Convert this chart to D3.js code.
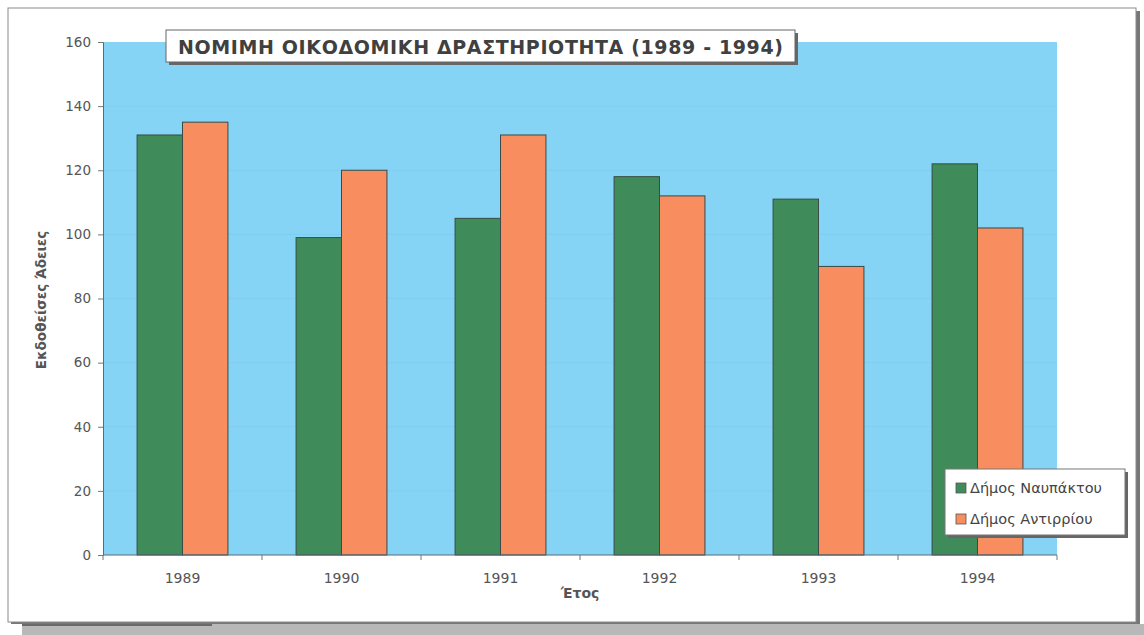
<!DOCTYPE html>
<html>
<head>
<meta charset="utf-8">
<script src="https://cdn.jsdelivr.net/npm/d3@7"></script>
<style>
html,body{margin:0;padding:0;background:#fff;}
svg{display:block;}
</style>
</head>
<body>
<svg id="chart" width="1144" height="635"></svg>
<script>
const years = ["1989","1990","1991","1992","1993","1994"];
const seriesNames = ["Δήμος Ναυπάκτου","Δήμος Αντιρρίου"];
const nafpaktos = [131, 99, 105, 118, 111, 122];
const antirrio = [135, 120, 131, 112, 90, 102];
const yTicks = [0,20,40,60,80,100,120,140,160];
const titleText = "ΝΟΜΙΜΗ ΟΙΚΟΔΟΜΙΚΗ ΔΡΑΣΤΗΡΙΟΤΗΤΑ (1989 - 1994)";
const yTitle = "Εκδοθείσες Άδειες";
const xTitle = "Έτος";
const colors = ["#3f8c5a", "#f88d5f"];

const svg = d3.select("#chart");
const font = "'DejaVu Sans', Verdana, sans-serif";

// scan background artifacts: bottom gray band
svg.append("rect").attr("x",22).attr("y",624).attr("width",1122).attr("height",11).attr("fill","#b8b8b8");
svg.append("rect").attr("x",22).attr("y",622).attr("width",190).attr("height",4).attr("fill","#6a6a6a");
// outer frame with shadow
svg.append("rect").attr("x",11).attr("y",11).attr("width",1129).attr("height",613).attr("fill","#777");
svg.append("rect").attr("x",8).attr("y",8).attr("width",1128).attr("height",614).attr("fill","#fff").attr("stroke","#8a8a8a").attr("stroke-width",1);

const m = {left:103, right:1057, top:42, bottom:555};
const x0 = d3.scaleBand().domain(years).range([m.left, m.right]).paddingInner(0).paddingOuter(0);
const barW = x0.bandwidth()/3.5;
const x1 = d3.scaleBand().domain([0,1]).range([0, barW*2]);
const y = d3.scaleLinear().domain([0,160]).range([m.bottom, m.top]);

// plot area
svg.append("rect").attr("x",m.left).attr("y",m.top).attr("width",m.right-m.left).attr("height",m.bottom-m.top).attr("fill","#86d4f5");
// faint gridlines
svg.append("g").selectAll("line").data(yTicks.filter(d=>d>0 && d<160)).join("line")
  .attr("x1",m.left).attr("x2",m.right).attr("y1",d=>y(d)).attr("y2",d=>y(d))
  .attr("stroke","#80cdee").attr("stroke-width",1);

// bars
const data = years.map((yr,i)=>({year:yr, vals:[nafpaktos[i], antirrio[i]]}));
const g = svg.append("g");
data.forEach(d=>{
  const gx = x0(d.year) + (x0.bandwidth()-barW*2)/2;
  d.vals.forEach((v,j)=>{
    g.append("rect")
      .attr("x", gx + x1(j)).attr("y", y(v))
      .attr("width", barW).attr("height", y(0)-y(v))
      .attr("fill", colors[j]).attr("stroke","#3a4a44").attr("stroke-width",1);
  });
});

// axes
const yAxis = d3.axisLeft(y).tickValues(yTicks).tickSize(5).tickPadding(7);
const ya = svg.append("g").attr("transform",`translate(${m.left},0)`).call(yAxis);
ya.select(".domain").attr("stroke","#5a6a78");
ya.selectAll(".tick line").attr("stroke","#777");
ya.selectAll("text").attr("font-family",font).attr("font-size",13.5).attr("fill","#555");

const xAxisScale = d3.scaleLinear().domain([0,6]).range([m.left,m.right]);
const xa = svg.append("g").attr("transform",`translate(0,${m.bottom})`);
xa.append("line").attr("x1",m.left).attr("x2",m.right).attr("stroke","#5a6a78");
xa.selectAll("line.t").data(d3.range(7)).join("line").attr("class","t")
  .attr("x1",d=>xAxisScale(d)).attr("x2",d=>xAxisScale(d)).attr("y1",0).attr("y2",5).attr("stroke","#777");
xa.selectAll("text").data(years).join("text")
  .attr("x",d=>x0(d)+x0.bandwidth()/2).attr("y",28)
  .attr("text-anchor","middle").attr("font-family",font).attr("font-size",14).attr("fill","#555")
  .text(d=>d);

// axis titles
svg.append("text").attr("transform","translate(46,300) rotate(-90)")
  .attr("text-anchor","middle").attr("font-family",font).attr("font-size",13.5).attr("font-weight","bold").attr("fill","#555")
  .text(yTitle);
svg.append("text").attr("x",580).attr("y",598).attr("text-anchor","middle")
  .attr("font-family",font).attr("font-size",14).attr("font-weight","bold").attr("fill","#555").text(xTitle);

// title box
svg.append("rect").attr("x",169).attr("y",33).attr("width",629).attr("height",32).attr("fill","#666");
svg.append("rect").attr("x",166).attr("y",30).attr("width",629).attr("height",32).attr("fill","#fff").attr("stroke","#666").attr("stroke-width",1);
svg.append("text").attr("x",178).attr("y",53.5).attr("font-family",font).attr("font-size",19).attr("font-weight","bold")
  .attr("fill","#404040").attr("textLength",605).attr("lengthAdjust","spacing").text(titleText);

// legend
const lg = svg.append("g");
lg.append("rect").attr("x",948).attr("y",472).attr("width",180).attr("height",66).attr("fill","#666");
lg.append("rect").attr("x",945).attr("y",469).attr("width",180).attr("height",66).attr("fill","#fff").attr("stroke","#777");
seriesNames.forEach((n,i)=>{
  const yy = 488 + i*31;
  lg.append("rect").attr("x",956).attr("y",yy-5).attr("width",10).attr("height",10).attr("fill",colors[i]).attr("stroke","#555").attr("stroke-width",0.8);
  lg.append("text").attr("x",970).attr("y",yy+5).attr("font-family",font).attr("font-size",14.5).attr("fill","#444").text(n);
});
</script>
</body>
</html>
